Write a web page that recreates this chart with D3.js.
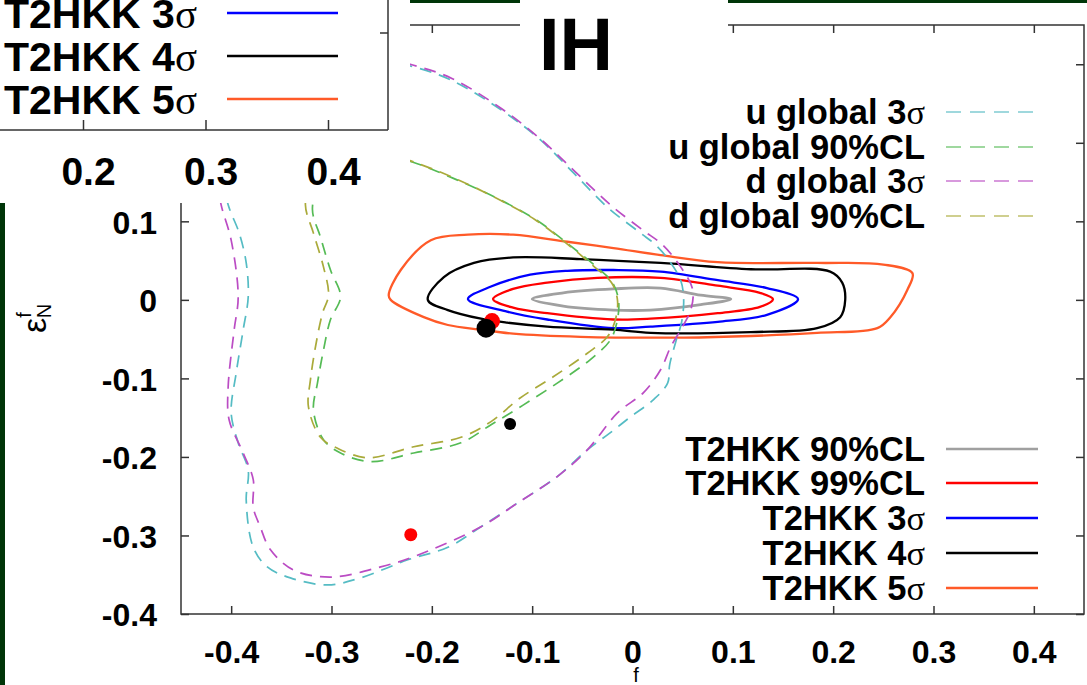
<!DOCTYPE html>
<html>
<head>
<meta charset="utf-8">
<script src="https://cdn.jsdelivr.net/npm/d3@7"></script>
<style>
body { margin: 0; background: #fff; }
svg { display: block; }
text { font-family: "Liberation Sans", Arial, sans-serif; }
</style>
</head>
<body>
<script>
// ---- data ----
var xTicks = [-0.4, -0.3, -0.2, -0.1, 0, 0.1, 0.2, 0.3, 0.4];
var yTicks = [-0.4, -0.3, -0.2, -0.1, 0, 0.1, 0.2, 0.3];
var otherTicks = [0.2, 0.3, 0.4];

// T2HKK contours (closed)
var t2hkk5s = [[-0.201,0.076],[-0.164,0.083],[-0.119,0.083],[-0.065,0.074],[-0.019,0.066],[0.028,0.057],
  [0.085,0.048],[0.184,0.047],[0.250,0.045],[0.279,0.034],[0.274,0.013],[0.257,-0.022],[0.244,-0.036],
  [0.184,-0.042],[0.118,-0.046],[0.051,-0.048],[-0.052,-0.047],[-0.119,-0.043],[-0.151,-0.038],
  [-0.184,-0.032],[-0.208,-0.022],[-0.241,0.000],[-0.243,0.006],[-0.231,0.038]];
var t2hkk4s = [[-0.204,0.000],[-0.188,0.029],[-0.158,0.047],[-0.119,0.054],[-0.052,0.052],[0.028,0.047],
  [0.118,0.039],[0.197,0.036],[0.209,0.022],[0.212,0.000],[0.207,-0.022],[0.184,-0.036],[0.118,-0.041],
  [0.018,-0.042],[-0.019,-0.038],[-0.085,-0.034],[-0.125,-0.029],[-0.151,-0.024],[-0.184,-0.013]];
var t2hkk3s = [[-0.164,0.001],[-0.141,0.017],[-0.102,0.032],[-0.065,0.037],[-0.019,0.038],[0.028,0.036],
  [0.085,0.025],[0.134,0.015],[0.165,0.001],[0.134,-0.019],[0.085,-0.028],[0.018,-0.034],[-0.019,-0.036],
  [-0.085,-0.025],[-0.125,-0.015]];
var t2hkk99 = [[-0.139,0.001],[-0.119,0.014],[-0.085,0.022],[-0.035,0.028],[0.028,0.028],[0.085,0.018],
  [0.127,0.009],[0.140,0.001],[0.127,-0.009],[0.085,-0.017],[0.018,-0.024],[-0.019,-0.025],[-0.085,-0.017],
  [-0.119,-0.010]];
var t2hkk90 = [[-0.100,0.001],[-0.069,0.009],[-0.019,0.014],[0.028,0.015],[0.068,0.006],[0.098,0.001],
  [0.068,-0.006],[0.018,-0.013],[-0.019,-0.013],[-0.069,-0.008]];

// global fit regions (open curves, ends run under the top-left panel)
var uGlobal3s = [[-0.415,0.229],[-0.410,0.166],[-0.403,0.121],[-0.392,0.085],[-0.385,0.047],[-0.383,0.004],
  [-0.388,-0.038],[-0.395,-0.093],[-0.400,-0.144],[-0.393,-0.182],[-0.383,-0.217],[-0.385,-0.255],
  [-0.378,-0.315],[-0.364,-0.340],[-0.341,-0.354],[-0.304,-0.363],[-0.271,-0.354],[-0.224,-0.331],
  [-0.184,-0.315],[-0.151,-0.289],[-0.115,-0.259],[-0.075,-0.225],[-0.045,-0.191],[-0.022,-0.169],
  [-0.002,-0.149],[0.021,-0.127],[0.035,-0.106],[0.037,-0.083],[0.043,-0.054],[0.049,-0.028],[0.051,0.000],
  [0.048,0.025],[0.036,0.051],[0.023,0.070],[0.008,0.085],[-0.025,0.118],[-0.059,0.162],[-0.092,0.204],
  [-0.131,0.242],[-0.181,0.280],[-0.219,0.297],[-0.261,0.308],[-0.311,0.312],[-0.361,0.303],[-0.395,0.274]];
var dGlobal3s = [[-0.422,0.229],[-0.416,0.166],[-0.410,0.121],[-0.400,0.076],[-0.393,0.004],[-0.397,-0.038],
  [-0.403,-0.111],[-0.402,-0.153],[-0.388,-0.195],[-0.378,-0.229],[-0.378,-0.264],[-0.371,-0.289],
  [-0.361,-0.318],[-0.338,-0.344],[-0.301,-0.353],[-0.251,-0.340],[-0.218,-0.327],[-0.151,-0.289],
  [-0.115,-0.259],[-0.075,-0.225],[-0.045,-0.191],[-0.015,-0.144],[0.011,-0.118],[0.028,-0.089],
  [0.038,-0.060],[0.049,-0.036],[0.058,-0.013],[0.060,0.013],[0.048,0.042],[0.030,0.070],[0.010,0.089],
  [-0.022,0.121],[-0.057,0.163],[-0.091,0.204],[-0.130,0.243],[-0.180,0.282],[-0.219,0.299],
  [-0.261,0.311],[-0.311,0.315],[-0.361,0.306],[-0.400,0.274]];
var uGlobal90 = [[-0.293,0.189],[-0.311,0.155],[-0.319,0.115],[-0.311,0.080],[-0.301,0.038],[-0.291,0.004],
  [-0.301,-0.025],[-0.308,-0.064],[-0.314,-0.106],[-0.318,-0.140],[-0.308,-0.178],[-0.291,-0.195],
  [-0.261,-0.206],[-0.218,-0.195],[-0.171,-0.182],[-0.141,-0.159],[-0.109,-0.134],[-0.075,-0.106],
  [-0.042,-0.076],[-0.022,-0.051],[-0.015,-0.025],[-0.014,0.000],[-0.020,0.022],[-0.036,0.042],
  [-0.062,0.069],[-0.095,0.101],[-0.136,0.130],[-0.179,0.155],[-0.218,0.175],[-0.251,0.187],[-0.279,0.192]];
var dGlobal90 = [[-0.301,0.191],[-0.319,0.159],[-0.326,0.121],[-0.318,0.085],[-0.308,0.042],[-0.303,0.006],
  [-0.309,-0.017],[-0.316,-0.060],[-0.321,-0.102],[-0.323,-0.136],[-0.311,-0.175],[-0.294,-0.189],
  [-0.264,-0.201],[-0.218,-0.187],[-0.171,-0.175],[-0.141,-0.155],[-0.112,-0.125],[-0.079,-0.098],
  [-0.045,-0.068],[-0.025,-0.047],[-0.017,-0.025],[-0.015,0.000],[-0.021,0.022],[-0.038,0.042],
  [-0.064,0.070],[-0.097,0.102],[-0.138,0.131],[-0.181,0.157],[-0.219,0.176],[-0.251,0.189],[-0.281,0.194]];

// best fit points
var redPoints = [[-0.140,-0.027],[-0.221,-0.299]];
var blackPoints = [[-0.146,-0.036],[-0.122,-0.158]];

var solidNames = ["T2HKK 90%CL", "T2HKK 99%CL", "T2HKK 3σ", "T2HKK 4σ", "T2HKK 5σ"];
var dashedNames = ["u global 3σ", "u global 90%CL", "d global 3σ", "d global 90%CL"];
var otherNames = ["T2HKK 3σ", "T2HKK 4σ", "T2HKK 5σ"];

// ---- styles ----
var solidColors = ["#a0a0a0", "#ff0000", "#0000ff", "#000000", "#ff5a28"];
var dashedColors = ["#55bcc4", "#55bb55", "#bb4cc4", "#aaaa3a"];
var otherColors = ["#0000ff", "#000000", "#ff5a28"];
var axisColor = "#333";
var slideGreen = "#003508";

var svgWidth = 1087, svgHeight = 685;
var svg = d3.select("body").append("svg")
  .attr("width", svgWidth)
  .attr("height", svgHeight);

svg.append("rect").attr("width", svgWidth).attr("height", svgHeight).attr("fill", "#fff");

// slide border pieces
svg.append("rect").attr("x", 410).attr("y", 0).attr("width", 677).attr("height", 3).attr("fill", slideGreen);
svg.append("rect").attr("x", 0).attr("y", 203).attr("width", 5).attr("height", 482).attr("fill", slideGreen);

var x = d3.scaleLinear().domain([-0.45, 0.45]).range([181, 1084]);
var y = d3.scaleLinear().domain([-0.4, 0.35]).range([614, 25]);

function styleAxis(g, fontSize) {
  g.select(".domain").remove();
  g.selectAll("line").attr("stroke", axisColor).attr("stroke-width", 1.5);
  g.selectAll("text")
    .attr("fill", "#000")
    .attr("font-family", "'Liberation Sans', Arial, sans-serif")
    .attr("font-weight", "bold")
    .attr("font-size", fontSize);
}

var fmt = function(d) { return String(d); };

svg.append("g").attr("transform", "translate(0,614)")
  .call(d3.axisBottom(x).tickValues(xTicks).tickSize(-8).tickPadding(26).tickFormat(fmt))
  .call(styleAxis, 32);
svg.append("g").attr("transform", "translate(0,25)")
  .call(d3.axisTop(x).tickValues(xTicks).tickSize(-8).tickFormat(""))
  .call(styleAxis, 32);
svg.append("g").attr("transform", "translate(181,0)")
  .call(d3.axisLeft(y).tickValues(yTicks).tickSize(-8).tickPadding(24).tickFormat(fmt))
  .call(styleAxis, 32)
  .selectAll("text").attr("dy", "0.37em");
svg.append("g").attr("transform", "translate(1084,0)")
  .call(d3.axisRight(y).tickValues(yTicks).tickSize(-8).tickFormat(""))
  .call(styleAxis, 32);

// frame
svg.append("rect")
  .attr("x", 181).attr("y", 25).attr("width", 903).attr("height", 589)
  .attr("fill", "none").attr("stroke", axisColor).attr("stroke-width", 1.5);

// axis titles
var yTitle = svg.append("text")
  .attr("transform", "translate(46,333) rotate(-90)")
  .attr("font-size", 34).attr("fill", "#000");
yTitle.append("tspan").text("ε");
yTitle.append("tspan").attr("font-size", 20).attr("dy", -15).text("f");
yTitle.append("tspan").attr("font-size", 20).attr("dx", -6).attr("dy", 20).text("N");

var xTitle = svg.append("text")
  .attr("x", 618).attr("y", 708)
  .attr("font-size", 34).attr("fill", "#000");
xTitle.append("tspan").text("ε");
xTitle.append("tspan").attr("font-size", 20).attr("dy", -26).text("f");

// curves
var closedLine = d3.line().x(d => x(d[0])).y(d => y(d[1])).curve(d3.curveCatmullRomClosed.alpha(0.5));
var openLine = d3.line().x(d => x(d[0])).y(d => y(d[1])).curve(d3.curveCatmullRom.alpha(0.5));

var solidData = [t2hkk90, t2hkk99, t2hkk3s, t2hkk4s, t2hkk5s];
svg.append("g").selectAll("path")
  .data(solidData)
  .enter()
  .append("path")
  .attr("d", closedLine)
  .attr("fill", "none")
  .attr("stroke", (d, i) => solidColors[i])
  .attr("stroke-width", (d, i) => i === 0 ? 2.8 : 2.3)
  .attr("stroke-linejoin", "round");

var dashedData = [uGlobal3s, uGlobal90, dGlobal3s, dGlobal90];
svg.append("g").selectAll("path")
  .data(dashedData)
  .enter()
  .append("path")
  .attr("d", openLine)
  .attr("fill", "none")
  .attr("stroke", (d, i) => dashedColors[i])
  .attr("stroke-width", 1.7)
  .attr("stroke-dasharray", "12,8");

// points
svg.append("g").selectAll("circle")
  .data(redPoints)
  .enter()
  .append("circle")
  .attr("cx", d => x(d[0]))
  .attr("cy", d => y(d[1]))
  .attr("r", (d, i) => i === 0 ? 8 : 6.5)
  .attr("fill", "#ff0000");
svg.append("g").selectAll("circle")
  .data(blackPoints)
  .enter()
  .append("circle")
  .attr("cx", d => x(d[0]))
  .attr("cy", d => y(d[1]))
  .attr("r", (d, i) => i === 0 ? 9.5 : 6)
  .attr("fill", "#000");

// legend helper: text right aligned, σ set in a serif face
function legendLabel(sel, label) {
  if (label.slice(-1) === "σ") {
    sel.append("tspan").text(label.slice(0, -1));
    sel.append("tspan").attr("font-family", "'Liberation Serif', 'DejaVu Serif', serif")
      .attr("font-weight", "normal").text("σ");
  } else {
    sel.text(label);
  }
}

function drawLegend(names, colors, rowY, textX, x1, x2, fontSize, dash, width) {
  var g = svg.append("g");
  names.forEach(function(name, i) {
    var t = g.append("text")
      .attr("x", textX).attr("y", rowY[i] + fontSize * 0.36)
      .attr("text-anchor", "end")
      .attr("font-weight", "bold")
      .attr("font-size", fontSize)
      .attr("fill", "#000");
    legendLabel(t, name);
    g.append("line")
      .attr("x1", x1).attr("x2", x2)
      .attr("y1", rowY[i]).attr("y2", rowY[i])
      .attr("stroke", colors[i])
      .attr("stroke-width", width)
      .attr("stroke-dasharray", dash)
      .attr("opacity", dash ? 0.75 : 1);
  });
}

drawLegend(dashedNames, dashedColors, [112, 147, 181, 216], 925, 946, 1038, 34.5, "15,9", 1.7);
drawLegend(solidNames, solidColors, [449, 483, 518, 553, 588], 925, 946, 1038, 34.5, null, 2.3);

// neighbouring panel that overlaps the top-left corner
svg.append("rect").attr("x", 0).attr("y", 0).attr("width", 410).attr("height", 203).attr("fill", "#fff");

var otherX = d3.scaleLinear().domain([0.2, 0.4]).range([83, 328]);
svg.append("g").attr("transform", "translate(0,130)")
  .call(d3.axisBottom(otherX).tickValues(otherTicks).tickSize(-10).tickPadding(27).tickFormat(fmt))
  .call(styleAxis, 39)
  .selectAll("text").attr("dx", 5);
svg.append("line").attr("x1", 0).attr("x2", 388).attr("y1", 130).attr("y2", 130)
  .attr("stroke", axisColor).attr("stroke-width", 1.5);
svg.append("line").attr("x1", 388).attr("x2", 388).attr("y1", 0).attr("y2", 130)
  .attr("stroke", axisColor).attr("stroke-width", 1.5);
svg.append("line").attr("x1", 380).attr("x2", 388).attr("y1", 33).attr("y2", 33)
  .attr("stroke", axisColor).attr("stroke-width", 1.5);

drawLegend(otherNames, otherColors, [13, 56, 99], 197, 227, 338, 41, null, 2.5);

// panel tag
svg.append("rect").attr("x", 520).attr("y", 0).attr("width", 208).attr("height", 85).attr("fill", "#fff");
svg.append("text")
  .attr("x", 576).attr("y", 70)
  .attr("text-anchor", "middle")
  .attr("font-weight", "bold")
  .attr("font-size", 74)
  .attr("fill", "#000")
  .text("IH");
</script>
</body>
</html>
